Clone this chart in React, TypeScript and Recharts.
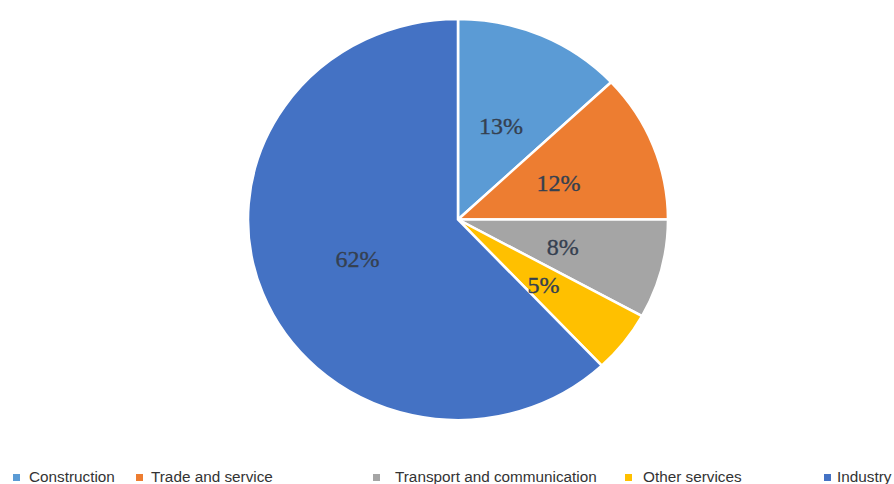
import React from 'react';
import { PieChart, Pie, Cell } from 'recharts';

const categories = ['Construction', 'Trade and service', 'Transport and communication', 'Other services', 'Industry'];
const shares = [13, 12, 8, 5, 62];
const colors = ['#5B9BD5', '#ED7D31', '#A5A5A5', '#FFC000', '#4472C4'];
const legendMarkerX = [13, 136, 373, 625, 824];
const legendTextX = [29, 151, 395, 643, 837];

const data = categories.map((name, i) => ({ name, value: shares[i] }));

const RAD = Math.PI / 180;
const CX = 458;
const CY = 219.5;

const renderLabel = (props: any) => {
  const { cx, cy, midAngle, outerRadius, value } = props;
  const r = outerRadius * 0.515;
  const x = cx + r * Math.cos(-midAngle * RAD);
  const y = cy + r * Math.sin(-midAngle * RAD) + 2;
  return (
    <text
      x={x}
      y={y}
      textAnchor="middle"
      dominantBaseline="central"
      fill="#354050"
      stroke="#354050"
      strokeWidth={0.35}
      fontFamily="'Liberation Serif', 'DejaVu Serif', serif"
      fontSize={23.5}
    >
      {`${value}%`}
    </text>
  );
};

function ChartLegend() {
  return (
    <div style={{ position: 'absolute', left: 0, top: 467, width: 894, height: 20 }}>
      {categories.map((name, i) => (
        <React.Fragment key={name}>
          <span
            style={{
              position: 'absolute',
              left: legendMarkerX[i],
              top: 7,
              width: 7,
              height: 7,
              background: colors[i],
            }}
          />
          <span
            style={{
              position: 'absolute',
              left: legendTextX[i],
              top: 0,
              lineHeight: '20px',
              whiteSpace: 'nowrap',
              fontFamily: "'Liberation Sans', Arial, sans-serif",
              fontSize: 15.3,
              color: '#333333',
            }}
          >
            {name}
          </span>
        </React.Fragment>
      ))}
    </div>
  );
}

export default function App() {
  return (
    <div style={{ position: 'absolute', left: 0, top: 0, width: 894, height: 484, background: '#ffffff', overflow: 'hidden' }}>
      <div
        style={{
          position: 'absolute',
          left: 0,
          top: 0,
          width: 894,
          height: 460,
          transform: 'scale(1.0244, 0.978)',
          transformOrigin: `${CX}px ${CY}px`,
        }}
      >
        <PieChart width={894} height={460} margin={{ top: 0, right: 0, bottom: 0, left: 0 }}>
          <Pie
            data={data}
            dataKey="value"
            nameKey="name"
            cx={CX}
            cy={CY}
            outerRadius={205}
            startAngle={90}
            endAngle={-270}
            stroke="#ffffff"
            strokeWidth={2.5}
            label={renderLabel}
            labelLine={false}
            isAnimationActive={false}
          >
            {data.map((d, i) => (
              <Cell key={d.name} fill={colors[i]} />
            ))}
          </Pie>
        </PieChart>
      </div>
      <ChartLegend />
    </div>
  );
}
